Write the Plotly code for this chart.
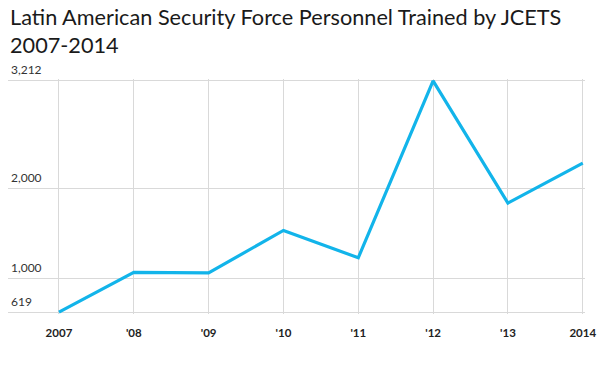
import plotly.graph_objects as go

years = [2007, 2008, 2009, 2010, 2011, 2012, 2013, 2014]
personnel = [619, 1065, 1058, 1535, 1228, 3212, 1842, 2291]
x_tick_labels = ["2007", "'08", "'09", "'10", "'11", "'12", "'13", "2014"]
y_tick_vals = [619, 1000, 2000, 3212]
y_tick_labels = ["619", "1,000", "2,000", "3,212"]
title_text = "Latin American Security Force Personnel Trained by JCETS<br>2007-2014"

FONT = "Lato, 'Open Sans', sans-serif"

fig = go.Figure()
fig.add_trace(go.Scatter(
    x=years, y=personnel, mode="lines",
    line=dict(color="#12b4ea", width=3.2),
    hoverinfo="skip", showlegend=False, cliponaxis=False,
))

# y-axis labels sit just above their gridlines, at the left edge of the plot
y_label_annotations = [
    dict(text=lab, xref="paper", yref="y", x=0, y=val,
         xanchor="left", yanchor="middle", showarrow=False,
         xshift=1, yshift=11,
         font=dict(family=FONT, size=12, color="#333"))
    for val, lab in zip(y_tick_vals, y_tick_labels)
]

fig.update_layout(
    width=616, height=368,
    margin=dict(l=8, r=30.5, t=79.3, b=53.7, autoexpand=False),
    paper_bgcolor="white", plot_bgcolor="white",
    font=dict(family=FONT, color="#222"),
    xaxis=dict(
        range=[2006.319, 2014.03],
        tickvals=years, ticktext=x_tick_labels,
        showgrid=True, gridcolor="#d9d9d9", gridwidth=1,
        zeroline=False, showline=False, ticks="", automargin=False,
        tickfont=dict(family=FONT, size=11.5, color="#222", weight="bold"),
        ticklabelstandoff=10,
    ),
    yaxis=dict(
        range=[597, 3234],
        tickvals=y_tick_vals, showticklabels=False,
        showgrid=True, gridcolor="#d9d9d9", gridwidth=1,
        zeroline=False, showline=False, ticks="", automargin=False,
    ),
    annotations=[dict(
        text=title_text, xref="paper", yref="paper", x=0, y=1,
        xanchor="left", yanchor="bottom", align="left", showarrow=False,
        xshift=0, yshift=18.5,
        font=dict(family=FONT, size=21.7, color="#1a1a1a"),
    )] + y_label_annotations,
)

# remove the browser's default 8px body margin so the figure fills the window
fig.write_html("out.html", config={"displayModeBar": False},
               post_script="document.body.style.margin='0';")
